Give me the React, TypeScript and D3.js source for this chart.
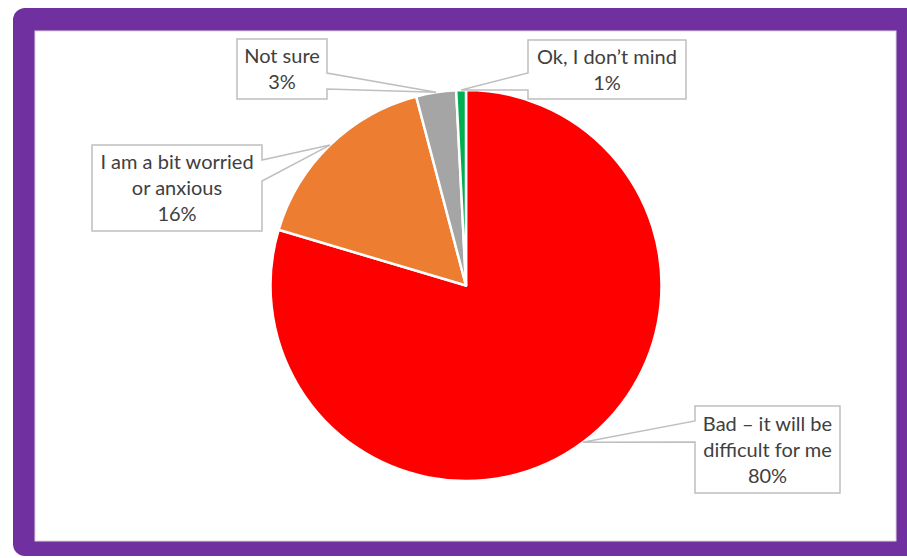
import React from 'react';
import * as d3 from 'd3';

const categories = ["Bad – it will be difficult for me", "I am a bit worried or anxious", "Not sure", "Ok, I don’t mind"];
const values = [79.6, 16.3, 3.3, 0.8];
const colors = ["#FF0000", "#ED7D31", "#A5A5A5", "#00B050"];
const labelLines = [["Bad – it will be", "difficult for me"], ["I am a bit worried", "or anxious"], ["Not sure"], ["Ok, I don’t mind"]];

// layout of callout boxes: x0, y0, x1, y1, side of pointer, pointer base y1, y2
const boxes: [number, number, number, number, string, number, number][] = [
  [695, 406, 840, 493, 'left', 421, 442],
  [92, 145, 262, 231, 'right', 160, 181],
  [237, 39, 327, 99, 'right', 73, 89],
  [528, 40, 686, 99, 'left', 73, 90],
];

const W = 907, H = 558;
const cx = 466, cy = 285.5, R = 195.5;
const FONT = 20;
const LH = 26;

export default function App() {
  const data = values.map((v, i) => ({ v, i }));
  const pie = d3.pie<any>().sort(null).value((d: any) => d.v).startAngle(0).endAngle(2 * Math.PI);
  const arcs = pie(data);
  const arc = d3.arc<any>().innerRadius(0).outerRadius(R);
  const edge = d3.arc<any>().innerRadius(R).outerRadius(R);
  const fmt = d3.format('.0%');
  const total = d3.sum(values);

  return (
    <svg width={W} height={H} style={{ position: 'absolute', left: 0, top: 0 }} fontFamily="Lato, 'Open Sans', sans-serif">
      <rect x={0} y={0} width={W} height={H} fill="#fff" />
      <rect x={13} y={8} width={930} height={548} rx={12} fill="#7030A0" />
      <rect x={35} y={31} width={861} height={510} fill="#fff" stroke="#D9D9D9" strokeWidth={1} />
      <g transform={`translate(${cx},${cy})`}>
        {arcs.map((a, i) => (
          <path key={i} d={arc(a) as string} fill={colors[i]} stroke="#fff" strokeWidth={2.5} strokeLinejoin="round" />
        ))}
      </g>
      {arcs.map((a, i) => {
        const [ax, ay] = edge.centroid(a);
        const tx = ax + cx, ty = ay + cy;
        const [x0, y0, x1, y1, side, b1, b2] = boxes[i];
        let d: string;
        if (side === 'right') {
          d = `M${x0},${y0}L${x1},${y0}L${x1},${b1}L${tx},${ty}L${x1},${b2}L${x1},${y1}L${x0},${y1}Z`;
        } else {
          d = `M${x0},${y0}L${x1},${y0}L${x1},${y1}L${x0},${y1}L${x0},${b2}L${tx},${ty}L${x0},${b1}Z`;
        }
        const lines = [...labelLines[i], fmt(values[i] / total)];
        const mx = (x0 + x1) / 2;
        const my = (y0 + y1) / 2;
        const startY = my - ((lines.length - 1) * LH) / 2;
        return (
          <g key={'l' + i}>
            <path d={d} fill="#fff" stroke="#BFBFBF" strokeWidth={1.5} strokeLinejoin="miter" />
            {lines.map((t, j) => (
              <text key={j} x={mx} y={startY + j * LH} dy="0.36em" textAnchor="middle" fontSize={FONT} fill="#404040">
                {t}
              </text>
            ))}
          </g>
        );
      })}
    </svg>
  );
}
